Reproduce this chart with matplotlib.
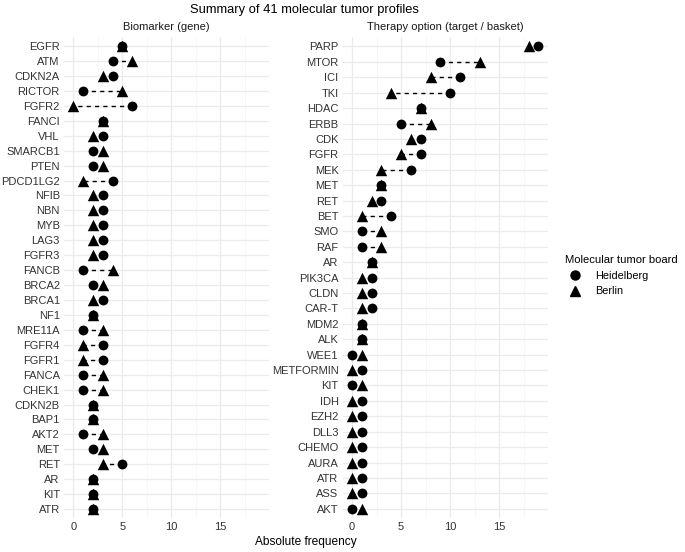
from matplotlib import pyplot as plt
from matplotlib.lines import Line2D
import numpy as np

plt.rcParams['font.family'] = ['Liberation Sans', 'DejaVu Sans']

# Biomarker (gene) panel, top to bottom
genes = ["EGFR", "ATM", "CDKN2A", "RICTOR", "FGFR2", "FANCI", "VHL", "SMARCB1",
         "PTEN", "PDCD1LG2", "NFIB", "NBN", "MYB", "LAG3", "FGFR3", "FANCB",
         "BRCA2", "BRCA1", "NF1", "MRE11A", "FGFR4", "FGFR1", "FANCA", "CHEK1",
         "CDKN2B", "BAP1", "AKT2", "MET", "RET", "AR", "KIT", "ATR"]
genes_hd = [5, 4, 4, 1, 6, 3, 3, 2, 2, 4, 3, 3, 3, 3, 3, 1,
            2, 3, 2, 1, 3, 3, 1, 1, 2, 2, 1, 2, 5, 2, 2, 2]
genes_be = [5, 6, 3, 5, 0, 3, 2, 3, 3, 1, 2, 2, 2, 2, 2, 4,
            3, 2, 2, 3, 1, 1, 3, 3, 2, 2, 3, 3, 3, 2, 2, 2]

# Therapy option panel, top to bottom
ther = ["PARP", "MTOR", "ICI", "TKI", "HDAC", "ERBB", "CDK", "FGFR", "MEK",
        "MET", "RET", "BET", "SMO", "RAF", "AR", "PIK3CA", "CLDN", "CAR-T",
        "MDM2", "ALK", "WEE1", "METFORMIN", "KIT", "IDH", "EZH2", "DLL3",
        "CHEMO", "AURA", "ATR", "ASS", "AKT"]
ther_hd = [19, 9, 11, 10, 7, 5, 7, 7, 6, 3, 3, 4, 1, 1, 2, 2, 2, 2,
           1, 1, 0, 1, 0, 1, 1, 1, 1, 1, 1, 1, 0]
ther_be = [18, 13, 8, 4, 7, 8, 6, 5, 3, 3, 2, 1, 3, 3, 2, 1, 1, 1,
           1, 1, 1, 0, 1, 0, 0, 0, 0, 0, 0, 0, 1]

fig = plt.figure(figsize=(6.85, 5.52), dpi=100)
ax1 = fig.add_axes([0.0934, 0.0616, 0.2993, 0.871])
ax2 = fig.add_axes([0.5003, 0.0616, 0.2993, 0.871])

def panel(ax, labels, hd, be, title):
    n = len(labels)
    y = np.arange(n)[::-1]
    for i in range(n):
        if hd[i] != be[i]:
            ax.plot([hd[i], be[i]], [y[i], y[i]], color="black", lw=1.0,
                    ls=(0, (3, 3)), zorder=2)
    ax.scatter(be, y, marker="^", s=68, color="black", zorder=3, linewidths=0)
    ax.scatter(hd, y, marker="o", s=50, color="black", zorder=4, linewidths=0)
    ax.set_xlim(-0.95, 19.95)
    ax.set_ylim(-0.6, n - 0.4)
    ax.set_yticks(y)
    ax.set_yticklabels(labels)
    ax.set_xticks([0, 5, 10, 15])
    ax.set_xticks([2.5, 7.5, 12.5, 17.5], minor=True)
    ax.grid(True, which="major", color="#ebebeb", lw=0.9)
    ax.grid(True, which="minor", axis="x", color="#f4f4f4", lw=0.5)
    ax.set_axisbelow(True)
    for s in ax.spines.values():
        s.set_visible(False)
    ax.tick_params(length=0, labelsize=8, colors="#333333", pad=3)
    ax.tick_params(axis="x", which="minor", length=0)
    ax.set_title(title, fontsize=8, color="#1a1a1a", pad=5)

panel(ax1, genes, genes_hd, genes_be, "Biomarker (gene)")
panel(ax2, ther, ther_hd, ther_be, "Therapy option (target / basket)")

fig.text(0.444, 0.992, "Summary of 41 molecular tumor profiles", ha="center",
         va="top", fontsize=9.3)
fig.text(0.447, 0.008, "Absolute frequency", ha="center", va="bottom", fontsize=8.6)

handles = [Line2D([], [], marker="o", color="black", ls="none", markersize=6.5),
           Line2D([], [], marker="^", color="black", ls="none", markersize=7.5)]
leg = fig.legend(handles, ["Heidelberg", "Berlin"], title="Molecular tumor board",
                 loc="upper left", bbox_to_anchor=(0.818, 0.545), frameon=False,
                 fontsize=7.8, title_fontsize=8.1, handletextpad=0.8,
                 labelspacing=0.5, borderaxespad=0)
leg._legend_box.align = "left"

plt.savefig("out.png", dpi=100)
